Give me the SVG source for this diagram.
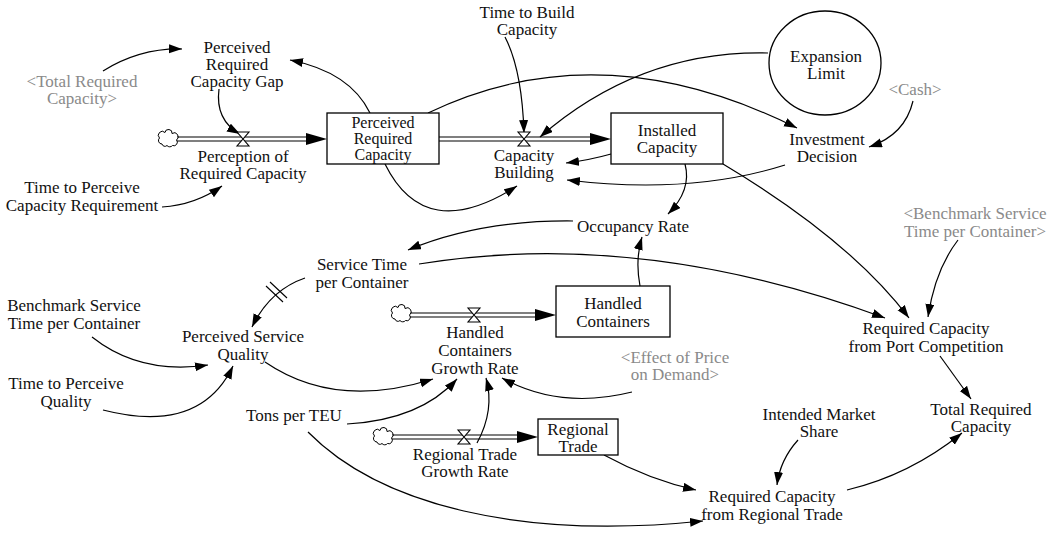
<svg xmlns="http://www.w3.org/2000/svg" width="1055" height="540" viewBox="0 0 1055 540">
<defs>
<marker id="ah" markerUnits="userSpaceOnUse" markerWidth="14" markerHeight="10" refX="13" refY="4.5" orient="auto">
<path d="M0,0 L13,4.5 L0,9 z" fill="#000"/>
</marker>
<path id="cloud" d="M-6,5 A3.5,3.5 0 0 1 -8.5,-1 A3.5,3.5 0 0 1 -3,-6.5 A3.5,3.5 0 0 1 4,-5.5 A3.5,3.5 0 0 1 8.5,1 A3.5,3.5 0 0 1 4.5,6.5 A3.5,3.5 0 0 1 -1,6.5 A3,3 0 0 1 -6,5 Z" fill="#fff" stroke="#000" stroke-width="1"/>
<style>
text{font-family:"Liberation Serif","Times New Roman",serif;font-size:17px;fill:#111;text-anchor:middle}
.g{fill:#8a8a8a}
.s16{font-size:16px}
.stock{fill:#fff;stroke:#000;stroke-width:1.3}
.link{fill:none;stroke:#000;stroke-width:1.2;marker-end:url(#ah)}
.pipe{fill:none;stroke:#000;stroke-width:1.1}
.valve{fill:#fff;stroke:#000;stroke-width:1.1}
</style>
</defs>
<rect width="1055" height="540" fill="#fff"/>

<g id="connectors">
<path class="link" d="M103,71 Q140,48 182,49"/>
<path class="link" d="M370,113 Q350,72 290,60"/>
<path class="link" d="M219,89 Q215,120 240,134"/>
<path class="link" d="M162,207 Q195,205 222,186"/>
<path class="link" d="M505,37 Q522,70 524,133"/>
<path class="link" d="M768,53 Q640,50 540,137"/>
<path class="link" d="M428,113 Q600,30 797,128"/>
<path class="link" d="M611,154 Q590,160 566,163"/>
<path class="link" d="M785,165 Q690,195 567,180"/>
<path class="link" d="M385,164 Q425,245 517,186"/>
<path class="link" d="M685,164 Q692,190 668,214"/>
<path class="link" d="M723,164 Q850,240 909,318"/>
<path class="link" d="M573,221 Q480,220 408,250"/>
<path class="link" d="M419,264 Q640,228 885,318"/>
<path class="link" d="M958,240 Q935,270 928,317"/>
<path class="link" d="M640,286 Q635,260 642,237"/>
<path class="link" d="M305,278 Q270,290 252,327"/>
<path fill="none" stroke="#000" stroke-width="1.1" d="M266,286 L283,302 M270,282 L287,298"/>
<path class="link" d="M92,337 Q140,375 208,365"/>
<path class="link" d="M103,410 Q200,435 233,366"/>
<path class="link" d="M265,362 Q335,410 433,379"/>
<path class="link" d="M347,424 Q420,420 457,379"/>
<path class="link" d="M477,443 Q495,410 486,378"/>
<path class="link" d="M632,392 Q560,410 502,378"/>
<path class="link" d="M308,432 C380,505 520,540 703,521"/>
<path class="link" d="M604,455 Q650,480 696,490"/>
<path class="link" d="M798,440 Q780,460 777,485"/>
<path class="link" d="M940,356 L971,399"/>
<path class="link" d="M847,490 Q910,475 962,433"/>
<path class="link" d="M913,101 Q905,135 869,147"/>
</g>

<g id="flow-perception">
<use href="#cloud" x="168" y="139"/>
<path class="pipe" d="M177,137 L308,137 M177,141 L308,141"/>
<polygon points="306,133 327,139 306,145" fill="#000"/>
<path class="valve" d="M237,132 L249,132 L237,146 L249,146 Z"/>
<text x="243" y="162">Perception of</text>
<text x="243" y="179">Required Capacity</text>
</g>

<g id="flow-capacity-building">
<path class="pipe" d="M439,137 L592,137 M439,141 L592,141"/>
<polygon points="590,133 611,139 590,145" fill="#000"/>
<path class="valve" d="M518,132 L530,132 L518,146 L530,146 Z"/>
<text x="524" y="161">Capacity</text>
<text x="524" y="178">Building</text>
</g>

<g id="flow-handled-growth">
<use href="#cloud" x="401" y="314"/>
<path class="pipe" d="M410,313 L537,313 M410,317 L537,317"/>
<polygon points="535,309 556,315 535,321" fill="#000"/>
<path class="valve" d="M468,308 L480,308 L468,322 L480,322 Z"/>
<text x="475" y="338">Handled</text>
<text x="475" y="356">Containers</text>
<text x="475" y="374">Growth Rate</text>
</g>

<g id="flow-regional-growth">
<use href="#cloud" x="383" y="437"/>
<path class="pipe" d="M392,435 L519,435 M392,439 L519,439"/>
<polygon points="517,431 538,437 517,443" fill="#000"/>
<path class="valve" d="M458,430 L470,430 L458,444 L470,444 Z"/>
<text x="465" y="460">Regional Trade</text>
<text x="465" y="477">Growth Rate</text>
</g>

<g id="perceived-required-capacity">
<rect class="stock" x="327" y="113" width="112" height="51"/>
<text class="s16" x="383" y="128">Perceived</text>
<text class="s16" x="383" y="144">Required</text>
<text class="s16" x="383" y="160">Capacity</text>
</g>
<g id="installed-capacity">
<rect class="stock" x="611" y="113" width="112" height="51"/>
<text x="667" y="136">Installed</text>
<text x="667" y="153">Capacity</text>
</g>
<g id="handled-containers">
<rect class="stock" x="556" y="286" width="114" height="51"/>
<text x="613" y="309">Handled</text>
<text x="613" y="327">Containers</text>
</g>
<g id="regional-trade">
<rect class="stock" x="538" y="419" width="80" height="36"/>
<text x="578" y="435">Regional</text>
<text x="578" y="452">Trade</text>
</g>
<g id="expansion-limit">
<ellipse cx="825" cy="63" rx="56" ry="52" fill="#fff" stroke="#000" stroke-width="1.3"/>
<text x="826" y="62">Expansion</text>
<text x="826" y="79">Limit</text>
</g>

<g id="time-to-build"><text x="527" y="18">Time to Build</text><text x="527" y="35">Capacity</text></g>
<g id="perceived-gap"><text x="237" y="53">Perceived</text><text x="237" y="70">Required</text><text x="237" y="87">Capacity Gap</text></g>
<g id="total-required-shadow"><text class="g" x="82" y="87">&lt;Total Required</text><text class="g" x="82" y="104">Capacity&gt;</text></g>
<g id="time-to-perceive-cap"><text x="82" y="193">Time to Perceive</text><text x="82" y="211">Capacity Requirement</text></g>
<g id="cash"><text class="g" x="915" y="95">&lt;Cash&gt;</text></g>
<g id="investment-decision"><text x="827" y="145">Investment</text><text x="827" y="162">Decision</text></g>
<g id="benchmark-shadow"><text class="g" x="975" y="219">&lt;Benchmark Service</text><text class="g" x="975" y="237">Time per Container&gt;</text></g>
<g id="occupancy-rate"><text x="633" y="232">Occupancy Rate</text></g>
<g id="service-time"><text x="362" y="270">Service Time</text><text x="362" y="288">per Container</text></g>
<g id="benchmark-service"><text x="74" y="311">Benchmark Service</text><text x="74" y="329">Time per Container</text></g>
<g id="perceived-service-quality"><text x="243" y="342">Perceived Service</text><text x="243" y="360">Quality</text></g>
<g id="time-to-perceive-quality"><text x="66" y="389">Time to Perceive</text><text x="66" y="407">Quality</text></g>
<g id="effect-of-price"><text class="g" x="675" y="363">&lt;Effect of Price</text><text class="g" x="675" y="380">on Demand&gt;</text></g>
<g id="req-cap-port"><text x="926" y="334">Required Capacity</text><text x="926" y="352">from Port Competition</text></g>
<g id="tons-per-teu"><text x="294" y="421">Tons per TEU</text></g>
<g id="intended-market-share"><text x="819" y="420">Intended Market</text><text x="819" y="437">Share</text></g>
<g id="total-required"><text x="981" y="415">Total Required</text><text x="981" y="432">Capacity</text></g>
<g id="req-cap-regional"><text x="772" y="502">Required Capacity</text><text x="772" y="520">from Regional Trade</text></g>
</svg>
